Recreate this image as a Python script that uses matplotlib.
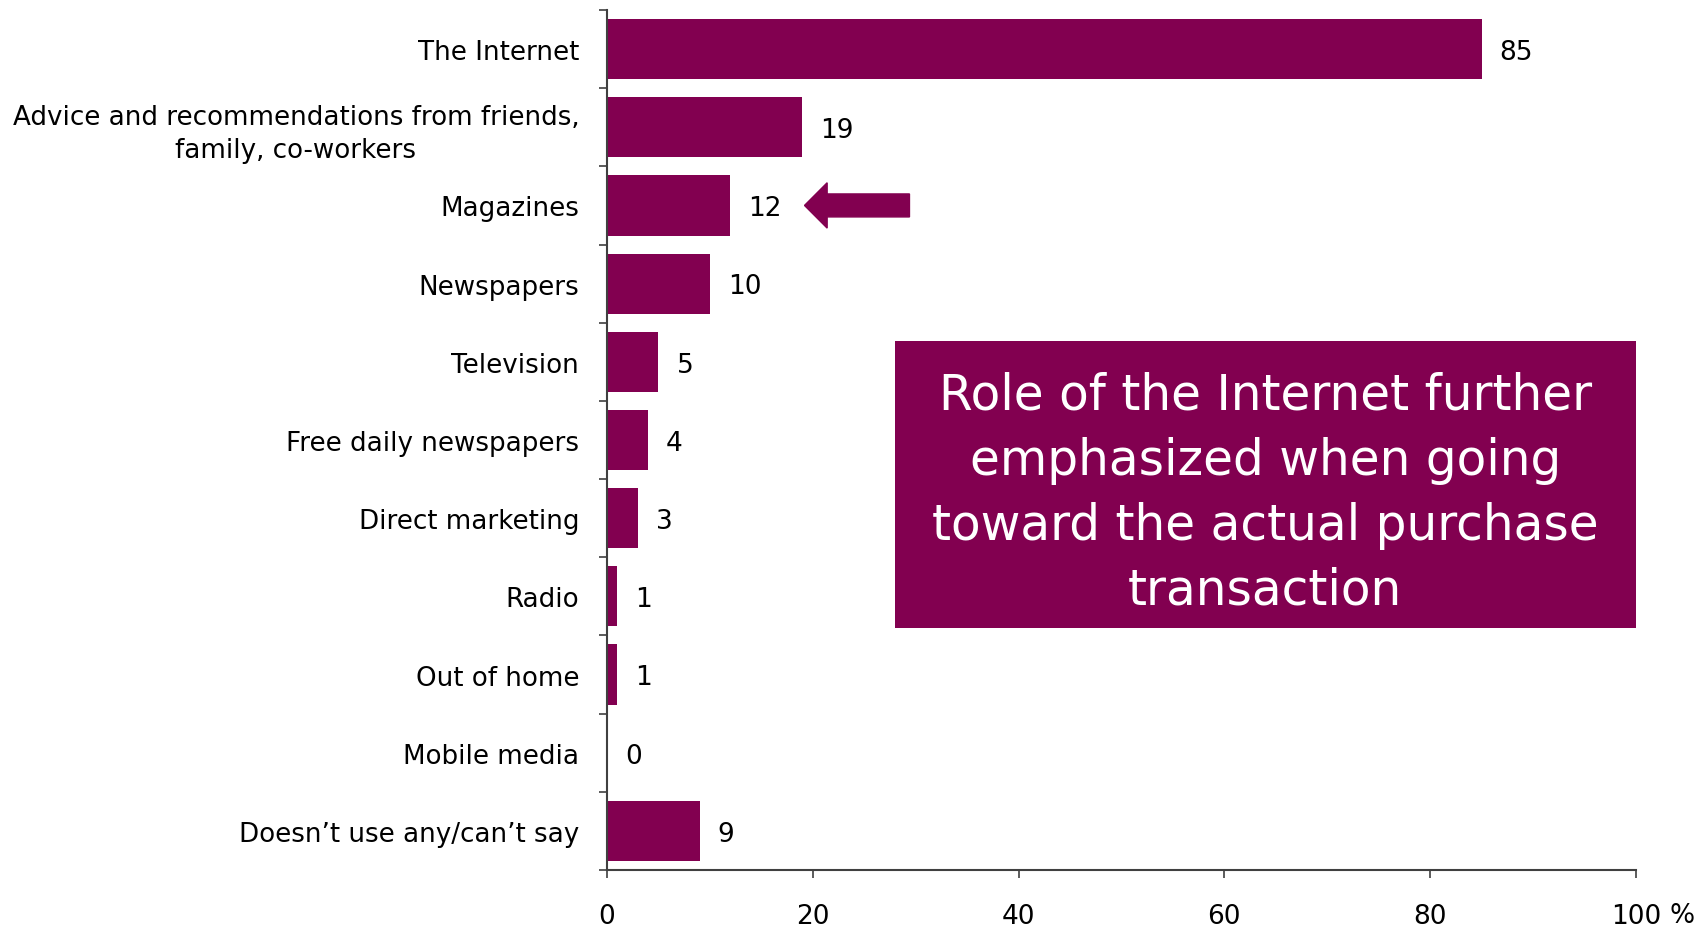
import numpy as np
import matplotlib.pyplot as plt

BAR_COLOR = '#820050'
AXIS_COLOR = '#404040'

categories = [
    'The Internet',
    'Advice and recommendations from friends,\nfamily, co-workers',
    'Magazines',
    'Newspapers',
    'Television',
    'Free daily newspapers',
    'Direct marketing',
    'Radio',
    'Out of home',
    'Mobile media',
    'Doesn\u2019t use any/can\u2019t say',
]
values = [85, 19, 12, 10, 5, 4, 3, 1, 1, 0, 9]
x_ticks = [0, 20, 40, 60, 80, 100]
note = ('Role of the Internet further\nemphasized when going\n'
        'toward the actual purchase\ntransaction')

plt.rcParams['font.family'] = ['DejaVu Sans']

fig = plt.figure(figsize=(17.03, 9.29), dpi=100)
ax = fig.add_axes([0.3564, 0.0624, 0.6042, 0.9258])

y = np.arange(len(categories))
ax.barh(y, values, height=0.77, color=BAR_COLOR, zorder=2)

# value labels just right of each bar
for yi, v in zip(y, values):
    ax.annotate('{}'.format(v), xy=(v, yi), xytext=(13, -2),
                textcoords='offset points', ha='left', va='center',
                fontsize=19, color='black')

ax.set_xlim(0, 100)
ax.set_ylim(len(categories) - 0.5, -0.5)

# category separators as major ticks, labels on minor ticks
ax.set_yticks(np.arange(-0.5, len(categories), 1.0))
ax.set_yticklabels([])
ax.set_yticks(y, minor=True)
ax.set_yticklabels(categories, minor=True, fontsize=18.8,
                   multialignment='center', linespacing=1.35)
ax.tick_params(axis='y', which='major', direction='out', length=6,
               width=1.2, color=AXIS_COLOR)
ax.tick_params(axis='y', which='minor', length=0, pad=20)

ax.set_xticks(x_ticks)
ax.set_xticklabels([str(t) for t in x_ticks], fontsize=19)
ax.tick_params(axis='x', direction='out', length=6, width=1.2,
               color=AXIS_COLOR, pad=18)
ax.text(1.045, -0.052, '%', transform=ax.transAxes, ha='center', va='center',
        fontsize=19)

for side in ('top', 'right'):
    ax.spines[side].set_visible(False)
for side in ('left', 'bottom'):
    ax.spines[side].set_color(AXIS_COLOR)
    ax.spines[side].set_linewidth(1.5)

# arrow pointing at the Magazines bar
mag = categories.index('Magazines')
tip = values[mag] + 7.2
arrow = plt.Polygon([
    (tip, mag),
    (tip + 2.2, mag - 0.29),
    (tip + 2.2, mag - 0.147),
    (tip + 10.2, mag - 0.147),
    (tip + 10.2, mag + 0.147),
    (tip + 2.2, mag + 0.147),
    (tip + 2.2, mag + 0.29),
], closed=True, color=BAR_COLOR, zorder=3)
ax.add_patch(arrow)

# highlighted note box
box = plt.Rectangle((0.5255, 0.3229), 0.4351, 0.3089, transform=fig.transFigure,
                    facecolor=BAR_COLOR, edgecolor='none', zorder=1)
fig.patches.append(box)
fig.text(0.7430, 0.4690, note, ha='center', va='center', color='white',
         fontsize=35, linespacing=1.45, zorder=2)

fig.savefig('out.png', dpi=100)
